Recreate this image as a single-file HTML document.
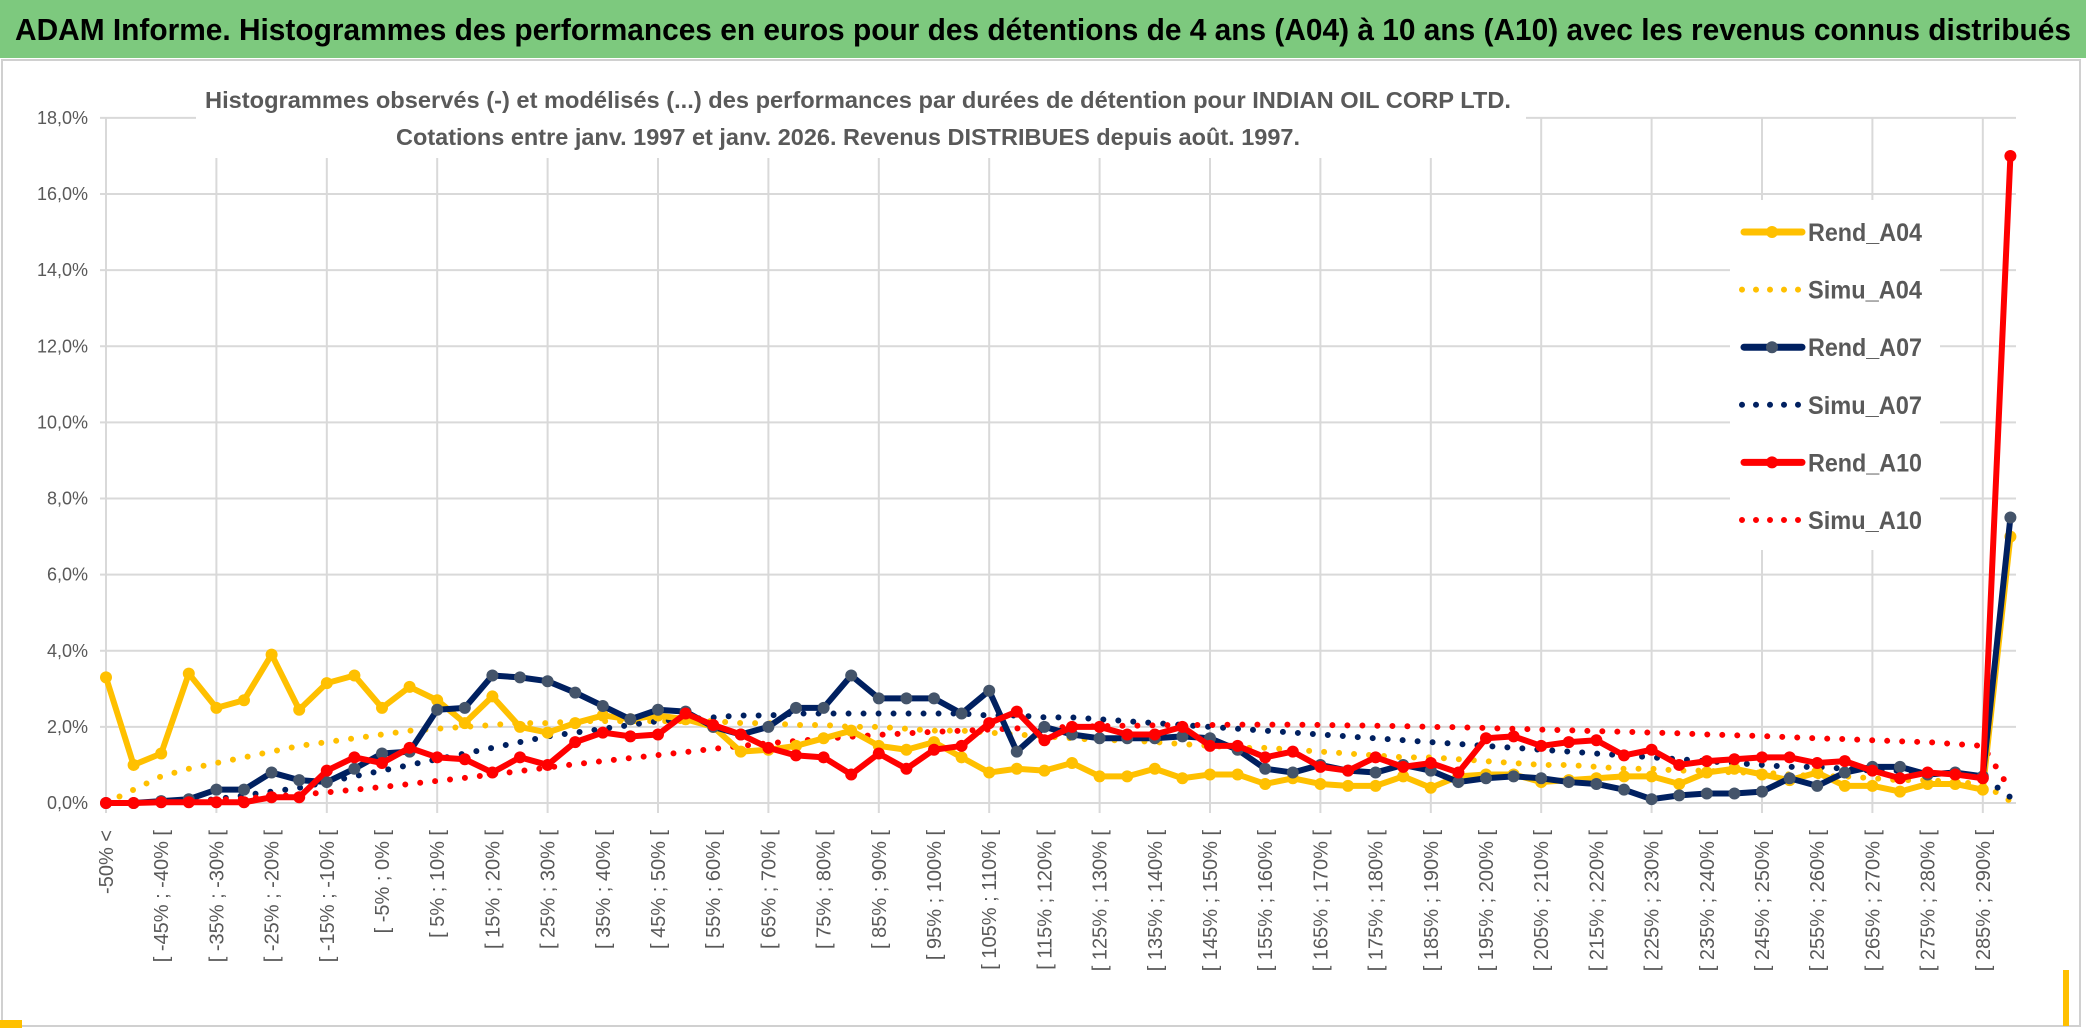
<!DOCTYPE html>
<html><head><meta charset="utf-8"><style>
html,body{margin:0;padding:0;background:#fff;}
svg{display:block;font-family:"Liberation Sans",sans-serif;}
</style></head><body>
<svg id="chart" width="2086" height="1031" viewBox="0 0 2086 1031" xmlns="http://www.w3.org/2000/svg">
<rect x="0" y="0" width="2086" height="1031" fill="#fff"/>
<rect x="0" y="0" width="2086" height="58" fill="#7DC97E"/>
<text x="1043" y="40" text-anchor="middle" font-size="31" font-weight="bold" fill="#000" textLength="2056" lengthAdjust="spacingAndGlyphs">ADAM Informe. Histogrammes des performances en euros pour des détentions de 4 ans (A04) à 10 ans (A10) avec les revenus connus distribués</text>
<rect x="2" y="60" width="2078" height="966" fill="none" stroke="#d0d0d0" stroke-width="2"/>
<rect x="0" y="1020" width="22" height="8" fill="#FFC000"/>
<rect x="2063" y="970" width="6" height="56" fill="#FFC000"/>
<g id="grid"></g>
<g id="yaxis"></g>
<g id="xaxis"></g>
<rect x="196" y="76" width="1330" height="82" fill="#fff"/>
<text x="858" y="108" text-anchor="middle" font-size="23" font-weight="bold" fill="#595959" textLength="1306" lengthAdjust="spacingAndGlyphs">Histogrammes observés (-) et modélisés (...) des performances par durées de détention pour INDIAN OIL CORP LTD.</text>
<text x="848" y="145" text-anchor="middle" font-size="23" font-weight="bold" fill="#595959" textLength="904" lengthAdjust="spacingAndGlyphs">Cotations entre janv. 1997 et janv. 2026. Revenus DISTRIBUES depuis août. 1997.</text>
<rect x="1730" y="200" width="210" height="350" fill="#fff"/>
<g id="series"></g>
<g id="legend"></g>
</svg>
<script>
const categories = ["-50% <","[ -50% ; -45% [","[ -45% ; -40% [","[ -40% ; -35% [","[ -35% ; -30% [","[ -30% ; -25% [","[ -25% ; -20% [","[ -20% ; -15% [","[ -15% ; -10% [","[ -10% ; -5% [","[ -5% ; 0% [","[ 0% ; 5% [","[ 5% ; 10% [","[ 10% ; 15% [","[ 15% ; 20% [","[ 20% ; 25% [","[ 25% ; 30% [","[ 30% ; 35% [","[ 35% ; 40% [","[ 40% ; 45% [","[ 45% ; 50% [","[ 50% ; 55% [","[ 55% ; 60% [","[ 60% ; 65% [","[ 65% ; 70% [","[ 70% ; 75% [","[ 75% ; 80% [","[ 80% ; 85% [","[ 85% ; 90% [","[ 90% ; 95% [","[ 95% ; 100% [","[ 100% ; 105% [","[ 105% ; 110% [","[ 110% ; 115% [","[ 115% ; 120% [","[ 120% ; 125% [","[ 125% ; 130% [","[ 130% ; 135% [","[ 135% ; 140% [","[ 140% ; 145% [","[ 145% ; 150% [","[ 150% ; 155% [","[ 155% ; 160% [","[ 160% ; 165% [","[ 165% ; 170% [","[ 170% ; 175% [","[ 175% ; 180% [","[ 180% ; 185% [","[ 185% ; 190% [","[ 190% ; 195% [","[ 195% ; 200% [","[ 200% ; 205% [","[ 205% ; 210% [","[ 210% ; 215% [","[ 215% ; 220% [","[ 220% ; 225% [","[ 225% ; 230% [","[ 230% ; 235% [","[ 235% ; 240% [","[ 240% ; 245% [","[ 245% ; 250% [","[ 250% ; 255% [","[ 255% ; 260% [","[ 260% ; 265% [","[ 265% ; 270% [","[ 270% ; 275% [","[ 275% ; 280% [","[ 280% ; 285% [","[ 285% ; 290% [","> 290%"];
const yTicks = [0,2,4,6,8,10,12,14,16,18];
const yTickLabels = ["0,0%","2,0%","4,0%","6,0%","8,0%","10,0%","12,0%","14,0%","16,0%","18,0%"];
const rendA04 = [3.3,1.0,1.3,3.4,2.5,2.7,3.9,2.45,3.15,3.35,2.5,3.05,2.7,2.1,2.8,2.0,1.85,2.1,2.3,2.2,2.3,2.2,2.0,1.35,1.4,1.5,1.7,1.9,1.5,1.4,1.6,1.2,0.8,0.9,0.85,1.05,0.7,0.7,0.9,0.65,0.75,0.75,0.5,0.65,0.5,0.45,0.45,0.7,0.4,0.7,0.75,0.75,0.55,0.6,0.65,0.7,0.7,0.5,0.8,0.9,0.75,0.6,0.8,0.45,0.45,0.3,0.5,0.5,0.35,7.0];
const simuA04 = [0.0,0.35,0.7,0.9,1.05,1.2,1.35,1.5,1.6,1.7,1.8,1.9,1.95,2.0,2.05,2.1,2.1,2.15,2.15,2.15,2.15,2.15,2.15,2.1,2.1,2.05,2.05,2.0,2.0,1.95,1.9,1.9,1.85,1.8,1.75,1.7,1.65,1.65,1.6,1.55,1.5,1.45,1.45,1.4,1.35,1.3,1.25,1.2,1.2,1.15,1.1,1.05,1.0,1.0,0.95,0.9,0.9,0.85,0.85,0.8,0.8,0.75,0.7,0.7,0.65,0.6,0.6,0.55,0.5,0.05];
const rendA07 = [0.0,0.0,0.05,0.1,0.35,0.35,0.8,0.6,0.55,0.9,1.3,1.35,2.45,2.5,3.35,3.3,3.2,2.9,2.55,2.2,2.45,2.4,2.0,1.8,2.0,2.5,2.5,3.35,2.75,2.75,2.75,2.35,2.95,1.35,2.0,1.8,1.7,1.7,1.7,1.75,1.7,1.4,0.9,0.8,1.0,0.85,0.8,1.0,0.85,0.55,0.65,0.7,0.65,0.55,0.5,0.35,0.1,0.2,0.25,0.25,0.3,0.65,0.45,0.8,0.95,0.95,0.75,0.8,0.7,7.5];
const simuA07 = [0,0,0.02,0.05,0.1,0.2,0.3,0.4,0.55,0.7,0.85,1.0,1.15,1.3,1.45,1.6,1.75,1.85,1.95,2.05,2.15,2.2,2.25,2.3,2.3,2.35,2.35,2.35,2.35,2.35,2.35,2.35,2.3,2.3,2.25,2.25,2.2,2.15,2.1,2.05,2.0,1.95,1.9,1.85,1.8,1.75,1.7,1.65,1.6,1.55,1.5,1.45,1.4,1.35,1.3,1.25,1.2,1.15,1.1,1.05,1.0,0.95,0.95,0.9,0.85,0.85,0.8,0.75,0.7,0.15];
const rendA10 = [0,0,0.02,0.02,0.02,0.02,0.15,0.15,0.85,1.2,1.05,1.45,1.2,1.15,0.8,1.2,1.0,1.6,1.85,1.75,1.8,2.35,2.05,1.8,1.45,1.25,1.2,0.75,1.3,0.9,1.4,1.5,2.1,2.4,1.65,2.0,2.0,1.8,1.8,2.0,1.5,1.5,1.2,1.35,0.95,0.85,1.2,0.95,1.05,0.8,1.7,1.75,1.5,1.6,1.65,1.25,1.4,1.0,1.1,1.15,1.2,1.2,1.05,1.1,0.85,0.65,0.8,0.75,0.65,17.0];
const simuA10 = [0,0,0.02,0.05,0.08,0.12,0.17,0.22,0.28,0.35,0.42,0.5,0.58,0.66,0.75,0.84,0.93,1.02,1.1,1.18,1.26,1.34,1.42,1.5,1.57,1.63,1.69,1.74,1.79,1.83,1.87,1.9,1.93,1.96,1.98,2.0,2.02,2.03,2.04,2.05,2.05,2.06,2.06,2.06,2.05,2.04,2.03,2.02,2.0,1.99,1.97,1.95,1.93,1.91,1.89,1.87,1.85,1.83,1.8,1.78,1.76,1.73,1.7,1.68,1.65,1.62,1.6,1.55,1.5,0.35];

const NS = "http://www.w3.org/2000/svg";
const X0 = 106, XSTEP = 27.6, Y0 = 803, YPER = 38.06;
function xScale(i){ return X0 + i*XSTEP; }
function yScale(v){ return Y0 - v*YPER; }
function mk(tag, attrs, parent){ const e=document.createElementNS(NS,tag); for(const k in attrs) e.setAttribute(k,attrs[k]); parent.appendChild(e); return e; }

const grid=document.getElementById('grid');
yTicks.forEach((t,i)=>{
  const l=mk('line',{x1:100,x2:2016,y1:yScale(t),y2:yScale(t),stroke:'#d9d9d9','stroke-width':2},grid);
  
  
});
for(let i=0;i<categories.length;i+=4){
  const l=mk('line',{x1:xScale(i),x2:xScale(i),y1:yScale(18),y2:Y0+10,stroke:'#d9d9d9','stroke-width':2},grid);
  
  
}
const yaxis=document.getElementById('yaxis');
yTicks.forEach((t,i)=>{
  const tx=mk('text',{x:88,y:yScale(t)+6,'text-anchor':'end','font-size':18,fill:'#595959'},yaxis);
  tx.textContent=yTickLabels[i];
  
  
});
const xaxis=document.getElementById('xaxis');
categories.forEach((c,i)=>{
  if(i%2!==0 || i>68) return;
  const x=xScale(i)+7, y=830;
  const tx=mk('text',{x:x,y:y,'text-anchor':'end','font-size':20,fill:'#595959',transform:`rotate(-90 ${x} ${y})`},xaxis);
  tx.textContent=c;
  
  
});

const series=document.getElementById('series');
function pts(arr){ return arr.map((v,i)=>xScale(i)+','+yScale(v)).join(' '); }
function dotted(arr,color,name){
  const p=mk('polyline',{points:pts(arr),fill:'none',stroke:color,'stroke-width':6,'stroke-linecap':'round','stroke-dasharray':'0 15'},series);
  
  
}
function solid(arr,color,mcolor,name){
  const g=mk('g',{},series);
  
  
  mk('polyline',{points:pts(arr),fill:'none',stroke:color,'stroke-width':6,'stroke-linejoin':'round'},g);
  arr.forEach((v,i)=>{
    const c=mk('circle',{cx:xScale(i),cy:yScale(v),r:6,fill:mcolor},g);
    
    
  });
}
dotted(simuA04,'#FFC000','simu-a04-line');
dotted(simuA07,'#002060','simu-a07-line');
dotted(simuA10,'#FF0000','simu-a10-line');
solid(rendA04,'#FFC000','#FFC000','rend-a04-line');
solid(rendA07,'#002060','#44546A','rend-a07-line');
solid(rendA10,'#FF0000','#FF0000','rend-a10-line');

const legend=document.getElementById('legend');
const legendNames=["Rend_A04","Simu_A04","Rend_A07","Simu_A07","Rend_A10","Simu_A10"];
const legendColors=["#FFC000","#FFC000","#002060","#002060","#FF0000","#FF0000"];
const legendMarkers=["#FFC000","","#44546A","","#FF0000",""];
legendNames.forEach((n,i)=>{
  const y=232+i*57.6;
  const g=mk('g',{},legend);
  
  
  if(legendMarkers[i]){
    mk('line',{x1:1744,x2:1802,y1:y,y2:y,stroke:legendColors[i],'stroke-width':7,'stroke-linecap':'round'},g);
    mk('circle',{cx:1772,cy:y,r:6,fill:legendMarkers[i]},g);
  } else {
    mk('line',{x1:1742,x2:1800,y1:y,y2:y,stroke:legendColors[i],'stroke-width':6,'stroke-linecap':'round','stroke-dasharray':'0 14'},g);
  }
  const t=mk('text',{x:1808,y:y+9,'font-size':25,'font-weight':'bold',fill:'#595959',textLength:114,lengthAdjust:'spacingAndGlyphs'},g);
  t.textContent=n;
});
</script>
</body></html>
